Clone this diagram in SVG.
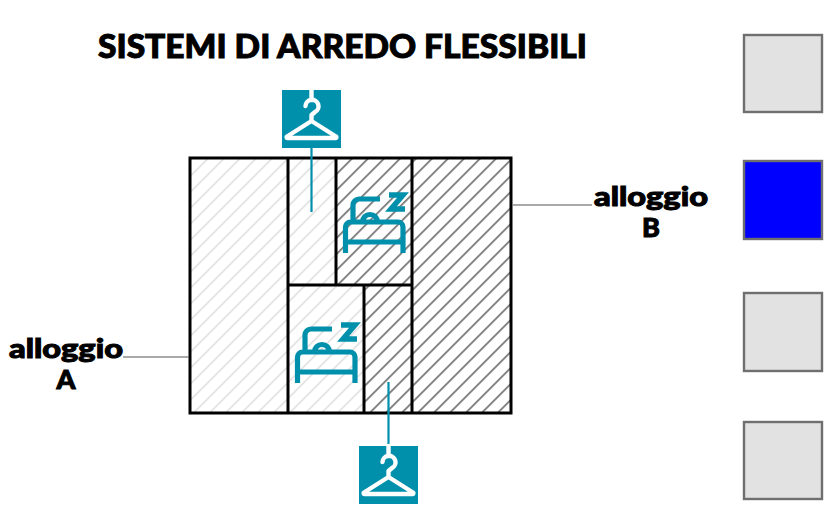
<svg xmlns="http://www.w3.org/2000/svg" width="831" height="511" viewBox="0 0 831 511">
<style>
.t{font-family:"Lato","Liberation Sans",Arial,sans-serif;font-weight:900;fill:#000;stroke:#000;stroke-width:1}
.w{fill:none;stroke:#000;stroke-width:3}
.l{fill:none;stroke:#555;stroke-width:1.2}
.c{fill:none;stroke:#0090ab;stroke-width:2.2}
.g{fill:#e2e2e2;stroke:#6f6f6f;stroke-width:2.4}
.ic{fill:none;stroke:#0090ab;stroke-width:5.200}
.h{fill:none;stroke:#fff;stroke-width:4.400;stroke-linejoin:round;stroke-linecap:round}
</style>
<defs>
<pattern id="lh" width="11.314" height="11.314" patternUnits="userSpaceOnUse" patternTransform="rotate(45)"><rect width="11.314" height="11.314" fill="#fff"/><rect x="9.8" width="1" height="11.314" fill="#d0d0d0"/></pattern>
<pattern id="dh" width="11.314" height="11.314" patternUnits="userSpaceOnUse" patternTransform="rotate(45)"><rect width="11.314" height="11.314" fill="#fff"/><rect x="9.800" width="1.100" height="11.314" fill="#2e2e2e"/></pattern>
<g id="hanger"><rect width="59" height="58" fill="#0090ab"/><path class="h" d="M29.500 0V10M23.500 16a6.500 6.500 0 1 1 9.500 6l-3.500 3V31M29.500 31L5 46.500a.8 .8 0 0 0 .5 1.500H53.500a.8 .8 0 0 0 .5-1.500Z"/></g>
<g id="bed"><path class="ic" d="M2.500 58V32a5 5 0 0 1 5-5H55a5 5 0 0 1 5 5V58M2.500 47H60M10 27V10a6 6 0 0 1 6-6H37M19.500 27a7.500 7.500 0 0 1 15 0"/><path fill="none" stroke="#0090ab" stroke-width="5.500" d="M46 0H60L48 14H62"/></g>
</defs>
<text class="t" x="98" y="57.500" font-size="33" textLength="489" lengthAdjust="spacingAndGlyphs">SISTEMI DI ARREDO FLESSIBILI</text>
<g id="plan">
<rect x="190" y="158" width="98" height="255" fill="url(#lh)"/>
<rect x="288" y="158" width="48" height="127" fill="url(#lh)"/>
<rect x="288" y="285" width="76" height="128" fill="url(#lh)"/>
<rect x="336" y="158" width="76" height="127" fill="url(#dh)"/>
<rect x="364" y="285" width="48" height="128" fill="url(#dh)"/>
<rect x="412" y="158" width="99" height="255" fill="url(#dh)"/>
<path class="w" d="M190 158H511V413H190ZM288 158V413M336 158V285M412 158V413M288 285H412M364 285V413"/>
</g>
<g id="connectors">
<path class="l" d="M513 205H592M123 357H189"/>
<path class="c" d="M311.500 147V212M388.500 382V446"/>
</g>
<g id="node-alloggio-a"><text class="t" x="66" y="358" font-size="27" text-anchor="middle" textLength="114" lengthAdjust="spacingAndGlyphs">alloggio</text><text class="t" x="66" y="389" font-size="27" text-anchor="middle">A</text></g>
<g id="node-alloggio-b"><text class="t" x="651" y="206" font-size="27" text-anchor="middle" textLength="114" lengthAdjust="spacingAndGlyphs">alloggio</text><text class="t" x="651" y="237" font-size="27" text-anchor="middle">B</text></g>
<g id="hanger-top"><use href="#hanger" x="282" y="90"/></g>
<g id="hanger-bottom"><use href="#hanger" x="359" y="446"/></g>
<g id="bed-top"><use href="#bed" x="343" y="195"/></g>
<g id="bed-bottom"><use href="#bed" x="295" y="325"/></g>
<g id="swatch-1"><rect class="g" x="744" y="35" width="78" height="77"/></g>
<g id="swatch-2"><rect class="g" x="744" y="161" width="78" height="78" style="fill:#0000ff"/></g>
<g id="swatch-3"><rect class="g" x="744" y="293" width="78" height="78"/></g>
<g id="swatch-4"><rect class="g" x="744" y="422" width="78" height="77"/></g>
</svg>
